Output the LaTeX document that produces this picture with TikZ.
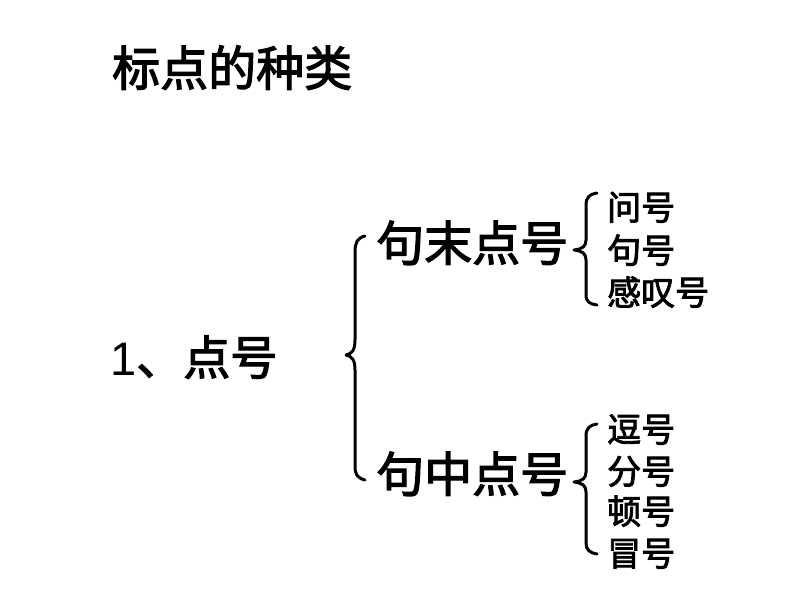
\documentclass[tikz,border=0pt]{standalone}
\usepackage{fontspec}
\setmainfont{Noto Sans CJK SC}[FakeBold=2.5]
\newfontfamily\latinfont{Liberation Sans}
\begin{document}
\begin{tikzpicture}[x=1pt,y=-1pt,
  big/.style={anchor=base west,inner sep=0pt,font=\fontsize{48}{50}\selectfont},
  small/.style={anchor=base west,inner sep=0pt,font=\fontsize{34}{36}\selectfont},
  brace/.style={line width=3pt,line cap=round,line join=round}]
\useasboundingbox (0,0) rectangle (794,596);
\node[big,font=\fontsize{48}{50}\selectfont] (title) at (112,86) {标点的种类};
\node[big,font=\fontsize{47}{50}\selectfont] (dian) at (110,375) {{\latinfont 1}、点号};
\node[big] (mo) at (376,261) {句末点号};
\node[big] (zhong) at (376,492) {句中点号};
\node[small] (a1) at (607,220) {问号};
\node[small] (a2) at (607,263) {句号};
\node[small] (a3) at (607,305) {感叹号};
\node[small] (b1) at (607,442) {逗号};
\node[small] (b2) at (607,484) {分号};
\node[small] (b3) at (607,524) {顿号};
\node[small] (b4) at (607,566) {冒号};
% big brace
\draw[brace] (365,236) .. controls (357,238) and (355,243) .. (355,252)
  -- (355,340) .. controls (355,350) and (352,354) .. (346,355)
  .. controls (352,356) and (355,360) .. (355,370)
  -- (355,466) .. controls (355,474) and (357,478) .. (365,480);
% small brace top
\draw[brace] (597,193) .. controls (590,194) and (586,197) .. (586,205)
  -- (586,240) .. controls (586,246) and (583,249) .. (574,250)
  .. controls (583,251) and (586,254) .. (586,260)
  -- (586,295) .. controls (586,302) and (590,304) .. (597,305);
% small brace bottom
\draw[brace] (597,424) .. controls (590,425) and (586,428) .. (586,436)
  -- (586,472) .. controls (586,478) and (583,481) .. (574,482)
  .. controls (583,483) and (586,486) .. (586,492)
  -- (586,543) .. controls (586,550) and (590,553) .. (597,554);
\end{tikzpicture}
\end{document}
